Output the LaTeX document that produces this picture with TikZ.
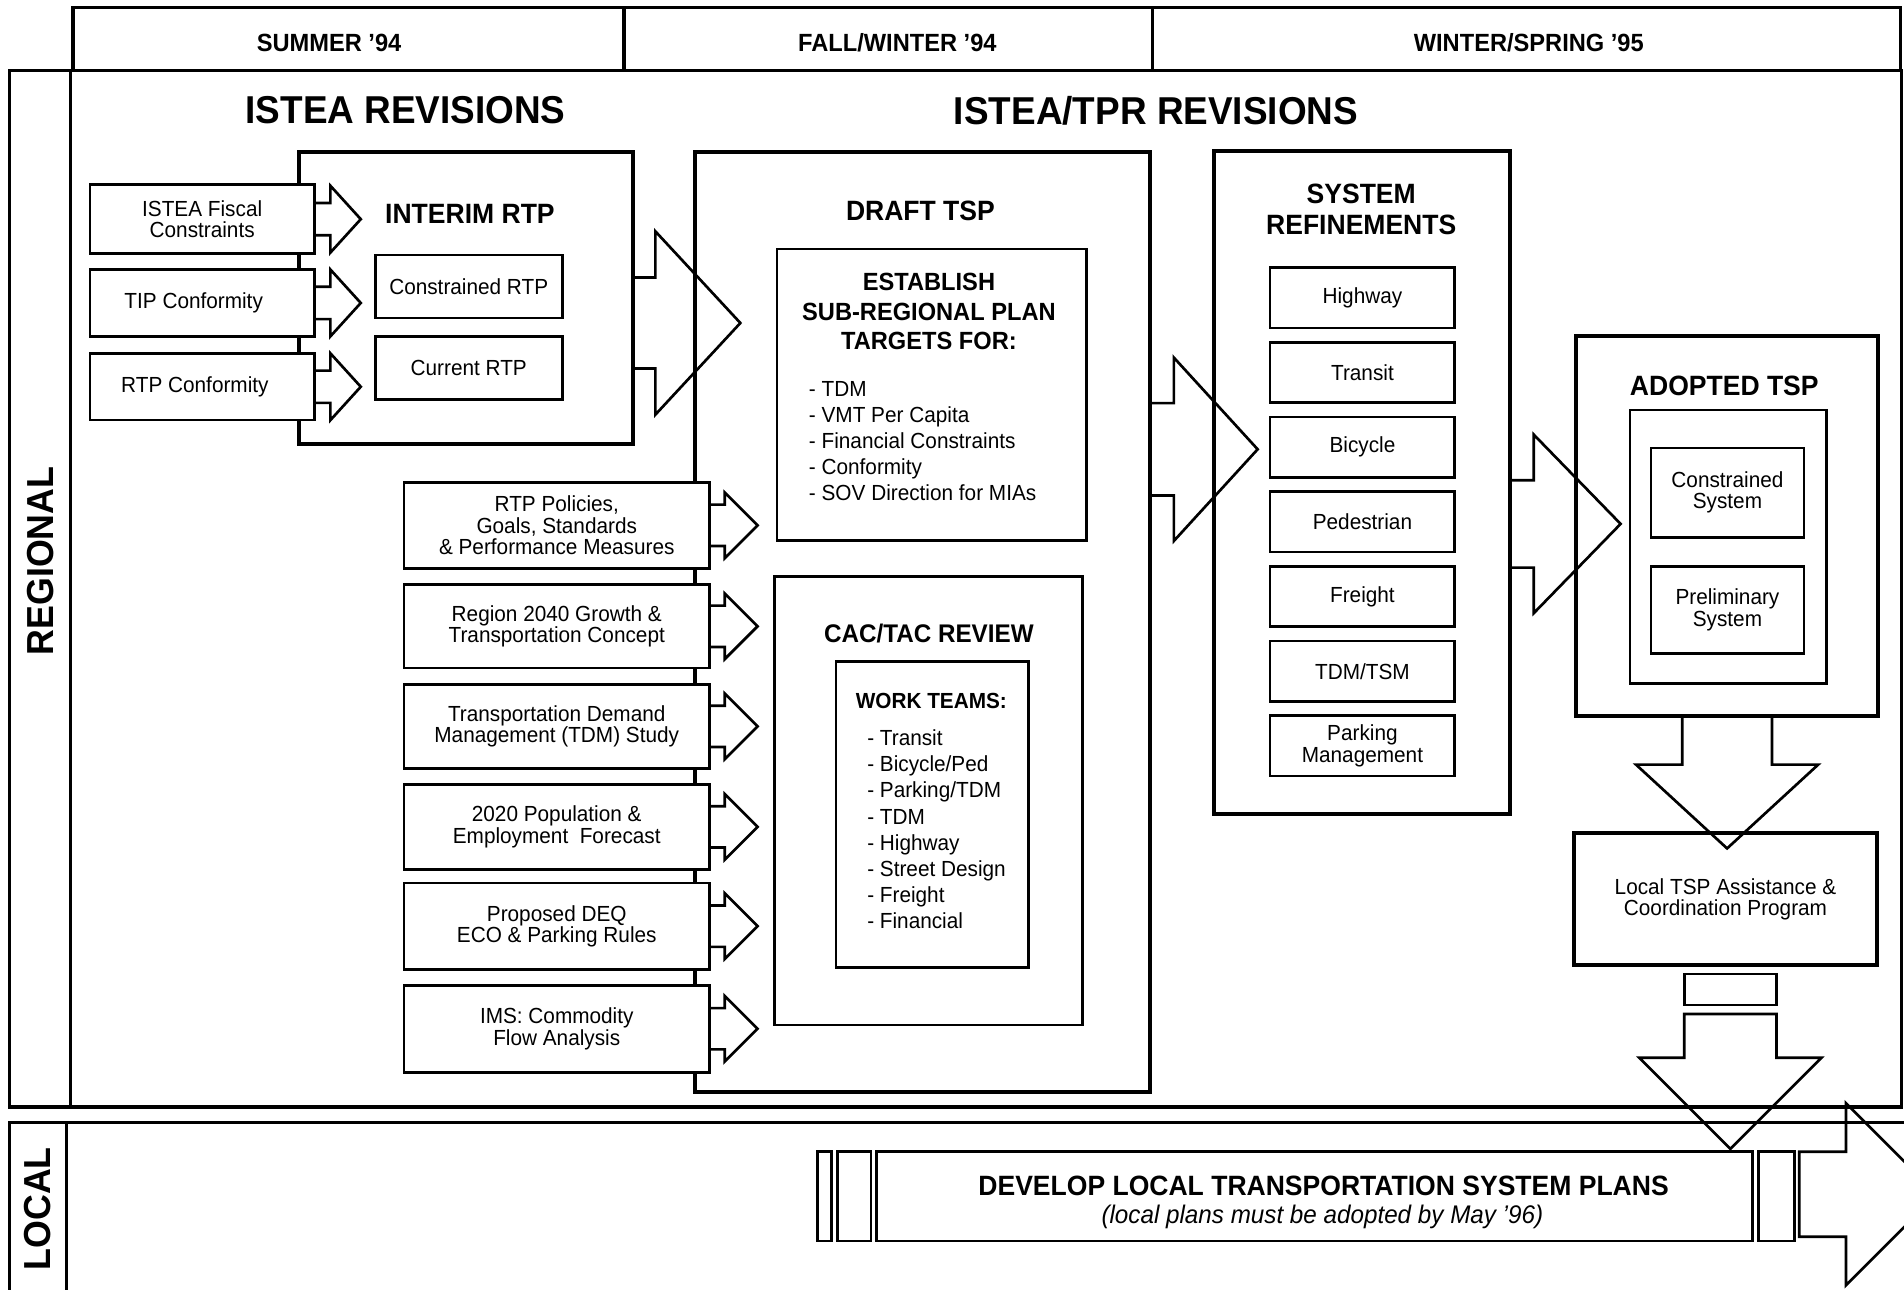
\documentclass[tikz,border=0pt]{standalone}
\usepackage{fontspec}
\setmainfont{Liberation Sans}[FakeStretch=0.95]
\usetikzlibrary{calc}
\newcommand\fsz[2]{\fontsize{#1}{#2}\selectfont}
\newcommand\mkrect[7]{\node[#2, minimum width={(#5)-(#3)}, minimum height={(#6)-(#4)}] (#1) at ({((#3)+(#5))/2},{((#4)+(#6))/2}) {#7};}
\newcommand\rarrow[6]{\draw[arr] ($#1+(0,-#4)$) -- ++(#2,0) -- ++(0,{-(#5-#4)}) -- ++(#3,#5) -- ++(-#3,#5) -- ++(0,{-(#5-#4)}) -- ++(-#2,0) #6;}
\newcommand\darrow[6]{\draw[arr] ($#1+(-#4,0)$) -- ++(0,#2) -- ++({-(#5-#4)},0) -- ++(#5,#3) -- ++(#5,-#3) -- ++({-(#5-#4)},0) -- ++(0,-#2) #6;}
\begin{document}
\begin{tikzpicture}[x=1pt,y=-1pt,
  frame/.style={draw, line width=2.8},
  bigbox/.style={draw, line width=3.4, fill=white, inner sep=0pt},
  box/.style={draw, line width=2.2, fill=white, inner sep=0pt, align=center, font=\fsz{18}{17.5}},
  arr/.style={draw, line width=2.2, line join=miter},
  ttl/.style={font=\bfseries\fsz{23}{23}, inner sep=0pt},
  hdr/.style={font=\bfseries\fsz{20.5}{20.5}, inner sep=0pt},
  lane/.style={font=\bfseries\fsz{31}{31}, inner sep=0pt, rotate=90},
  big/.style={font=\bfseries\fsz{32}{32}, inner sep=0pt},
  lst/.style={font=\fsz{18}{21.5}, align=left, anchor=north west, inner sep=0pt}
]
\fill[white] (0,0) rectangle (1568,1062);
\useasboundingbox (0,0) rectangle (1568,1062);

% header
\draw[frame] (60,6) rectangle (1565,58);
\draw[frame] (514,6) -- (514,58);
\draw[frame] (949,6) -- (949,58);
\node[hdr] (h1) at (271,35) {SUMMER '94};
\node[hdr] (h2) at (739,35) {FALL/WINTER '94};
\node[hdr] (h3) at (1259,35) {WINTER/SPRING '95};

% lanes
\draw[frame] (8,58) rectangle (1566,911.5);
\draw[frame] (58,58) -- (58,911.5);
\draw[frame] (1575,924.5) -- (8,924.5) -- (8,1075);
\draw[frame] (55,924.5) -- (55,1075);
\node[lane] (regl) at (33,462) {REGIONAL};
\node[lane] (locl) at (31,995.5) {LOCAL};

\node[big] (t1) at (334,91) {ISTEA REVISIONS};
\node[big] (t2) at (952,91) {ISTEA/TPR REVISIONS};

% interim RTP
\mkrect{interim}{bigbox}{246}{125}{521}{366}{}
\node[ttl] (interimT) at (387,176) {INTERIM RTP};
\mkrect{crtp}{box}{309}{210}{463}{262}{Constrained RTP}
\mkrect{currtp}{box}{309}{277}{463}{329}{Current RTP}
\mkrect{fisc}{box}{74}{152}{259}{209}{ISTEA Fiscal\\Constraints}
\mkrect{tipc}{box}{74}{222}{259}{277}{TIP Conformity\hspace*{14pt}}
\mkrect{rtpc}{box}{74}{291}{259}{346}{RTP Conformity\hspace*{12pt}}
\rarrow{(fisc.east)}{12}{25}{13.3}{27.5}{}
\rarrow{(tipc.east)}{12}{25}{13.3}{27.5}{}
\rarrow{(rtpc.east)}{12}{25}{13.3}{27.5}{}

% draft TSP
\mkrect{draft}{bigbox}{572}{125}{947}{899}{}
\node[ttl] (draftT) at (758,174) {DRAFT TSP};
\mkrect{estab}{box}{640}{205}{895}{445}{}
\node[font=\bfseries\fsz{20.5}{24.5}, align=center, inner sep=0pt] (estabT) at (765,256.5) {ESTABLISH\\SUB-REGIONAL PLAN\\TARGETS FOR:};
\node[lst] (estabL) at (666,313.6) {- TDM\\- VMT Per Capita\\- Financial Constraints\\- Conformity\\- SOV Direction for MIAs};
\mkrect{cac}{box}{638}{475}{891.5}{844}{}
\node[font=\bfseries\fsz{21}{21}, inner sep=0pt] (cacT) at (765,522) {CAC/TAC REVIEW};
\mkrect{work}{box}{688.5}{545}{847}{796.5}{}
\node[font=\bfseries\fsz{18}{18}, inner sep=0pt] (workT) at (767,577) {WORK TEAMS:};
\node[lst] (workL) at (714,600.9) {- Transit\\- Bicycle/Ped\\- Parking/TDM\\- TDM\\- Highway\\- Street Design\\- Freight\\- Financial};

% inputs
\mkrect{pol}{box}{332.6}{397.3}{584.4}{467.9}{RTP Policies,\\Goals, Standards\\\& Performance Measures}
\mkrect{reg40}{box}{332.6}{481.3}{584.4}{550.2}{Region 2040 Growth \&\\Transportation Concept}
\mkrect{tdm}{box}{332.6}{563.7}{584.4}{632.6}{Transportation Demand\\Management (TDM) Study}
\mkrect{pop}{box}{332.6}{646}{584.4}{715.9}{2020 Population \&\\Employment\ \ Forecast}
\mkrect{deq}{box}{332.6}{727.3}{584.4}{798.2}{Proposed DEQ\\ECO \& Parking Rules}
\mkrect{ims}{box}{332.6}{811.4}{584.4}{883}{IMS: Commodity\\Flow Analysis}
\foreach \n in {pol,reg40,tdm,pop,deq,ims}{\rarrow{(\n.east)}{11.4}{27}{17}{27}{}}

% system refinements
\mkrect{sys}{bigbox}{1000}{124.5}{1243.6}{670.4}{}
\node[font=\bfseries\fsz{23}{25.7}, align=center, inner sep=0pt] (sysT) at (1121,172.3) {SYSTEM\\REFINEMENTS};
\mkrect{hwy}{box}{1046}{220.5}{1198}{270}{Highway}
\mkrect{trans}{box}{1046}{282}{1198}{331.5}{Transit}
\mkrect{bike}{box}{1046}{343.5}{1198}{393}{Bicycle}
\mkrect{ped}{box}{1046}{405}{1198}{454.5}{Pedestrian}
\mkrect{frt}{box}{1046}{466.5}{1198}{516}{Freight}
\mkrect{tsm}{box}{1046}{528}{1198}{577.5}{TDM/TSM}
\mkrect{park}{box}{1046}{589.5}{1198}{639}{Parking\\Management}

% adopted TSP
\mkrect{adopt}{bigbox}{1298}{277}{1546.6}{589.5}{}
\node[ttl] (adoptT) at (1420,317.5) {ADOPTED TSP};
\mkrect{adoptin}{box}{1342.4}{337.7}{1504}{562.7}{}
\mkrect{csys}{box}{1359.5}{369}{1485.7}{442.5}{Constrained\\System}
\mkrect{psys}{box}{1359.5}{466.4}{1485.7}{538}{Preliminary\\System}
\mkrect{ltsp}{bigbox, align=center, font=\fsz{18}{17.5}}{1296}{686}{1546}{795}{Local TSP Assistance \&\\Coordination Program}
\mkrect{link}{box}{1387}{802}{1463}{827.7}{}

% local band
\mkrect{dv1}{box}{673}{948.5}{684.8}{1022}{}
\mkrect{dv2}{box}{689.5}{948.5}{717.3}{1022}{}
\mkrect{dev}{box}{722}{948.5}{1443}{1022}{}
\mkrect{dv3}{box}{1448}{948.5}{1477.6}{1022}{}
\node[font=\bfseries\fsz{23}{23}, inner sep=0pt] (devT) at (1090,977) {DEVELOP LOCAL TRANSPORTATION SYSTEM PLANS};
\node[font=\itshape\fsz{21}{21}, inner sep=0pt] (devS) at (1089,1002) {(local plans must be adopted by May '96)};

% block arrows
\coordinate (a1) at ($(interim.east)+(0,20.5)$);
\rarrow{(a1)}{17}{70}{37.5}{75.5}{}
\coordinate (a2) at ($(draft.east)+(0,-142)$);
\rarrow{(a2)}{18}{69}{38}{75.5}{}
\coordinate (a3) at ($(sys.east)+(0,34)$);
\rarrow{(a3)}{17.8}{71.5}{36}{73.5}{}
\darrow{(adopt.south)}{38.5}{69}{37}{75}{}
\coordinate (d2) at ($(link.south)+(0,6.3)$);
\darrow{(d2)}{36}{75}{38}{75}{-- cycle}
\coordinate (d3) at ($(dv3.east)+(3,-1.75)$);
\rarrow{(d3)}{38.5}{75}{35}{75}{-- cycle}
\end{tikzpicture}
\end{document}
